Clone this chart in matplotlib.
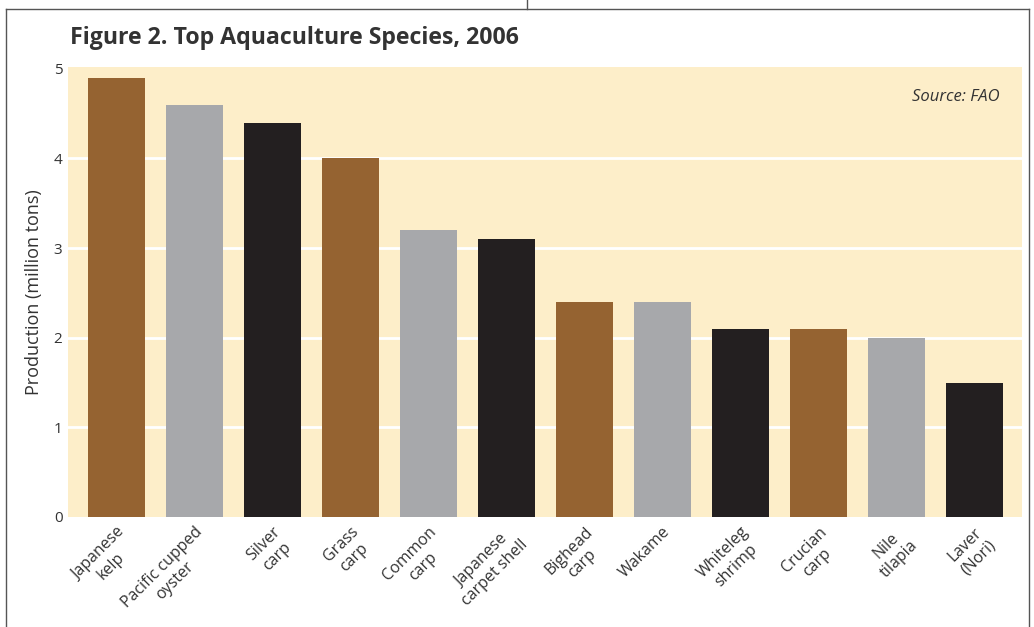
import matplotlib.pyplot as plt
from matplotlib.lines import Line2D

species = ["Japanese\nkelp", "Pacific cupped\noyster", "Silver\ncarp",
           "Grass\ncarp", "Common\ncarp", "Japanese\ncarpet shell",
           "Bighead\ncarp", "Wakame", "Whiteleg\nshrimp", "Crucian\ncarp",
           "Nile\ntilapia", "Laver\n(Nori)"]
production = [4.9, 4.6, 4.4, 4.0, 3.2, 3.1, 2.4, 2.4, 2.1, 2.1, 2.0, 1.5]
y_ticks = [0, 1, 2, 3, 4, 5]

BROWN = "#956331"
GREY = "#a7a8ab"
BLACK = "#231f20"
CREAM = "#fdeec9"
TEXT = "#333333"


def main() -> None:
    """draws the aquaculture bar chart"""
    plt.rcParams['font.family'] = ['Open Sans', 'DejaVu Sans']
    fig = plt.figure(figsize=(10.34, 6.27), dpi=100)
    ax = fig.add_axes([68 / 1034, 1 - 517 / 627, 954 / 1034, 450 / 627])
    ax.set_facecolor(CREAM)

    colors = [BROWN, GREY, BLACK] * 4
    xs = list(range(len(species)))
    ax.bar(xs, production, width=0.73, color=colors, zorder=3)

    ax.set_xlim(-0.62, 11.61)
    ax.set_ylim(0, 5.02)
    ax.set_yticks(y_ticks)
    ax.set_yticklabels([str(t) for t in y_ticks], fontsize=11, color=TEXT)
    for t in y_ticks[1:-1]:
        ax.axhline(t, color="white", linewidth=2, zorder=1)
    ax.set_xticks(xs)
    ax.set_xticklabels(species, rotation=45, ha="right",
                       rotation_mode="anchor", fontsize=11.5, color=TEXT,
                       multialignment="center")
    ax.tick_params(axis="both", length=0)
    ax.tick_params(axis="x", pad=5)
    ax.tick_params(axis="y", pad=4)
    for s in ax.spines.values():
        s.set_visible(False)

    ax.set_ylabel("Production (million tons)", fontsize=13, color=TEXT,
                  labelpad=8)
    ax.text(0.977, 0.933, "Source: FAO", transform=ax.transAxes,
            ha="right", va="center", fontsize=12, style="italic",
            color=TEXT)

    fig.text(70 / 1034, 1 - 38 / 627, "Figure 2. Top Aquaculture Species, 2006",
             fontsize=16.7, fontweight="bold", color=TEXT, va="center")

    # page frame
    fx0, fx1 = 6 / 1034, 1029 / 1034
    fy = 1 - 9 / 627
    fig.add_artist(Line2D([fx0, fx1], [fy, fy], color="#555555", lw=1))
    fig.add_artist(Line2D([fx0, fx0], [0, fy], color="#555555", lw=1))
    fig.add_artist(Line2D([fx1, fx1], [0, fy], color="#555555", lw=1))
    fig.add_artist(Line2D([527 / 1034, 527 / 1034], [fy, 1],
                          color="#555555", lw=1))

    fig.savefig("out.png", dpi=100)


if __name__ == "__main__":
    main()
